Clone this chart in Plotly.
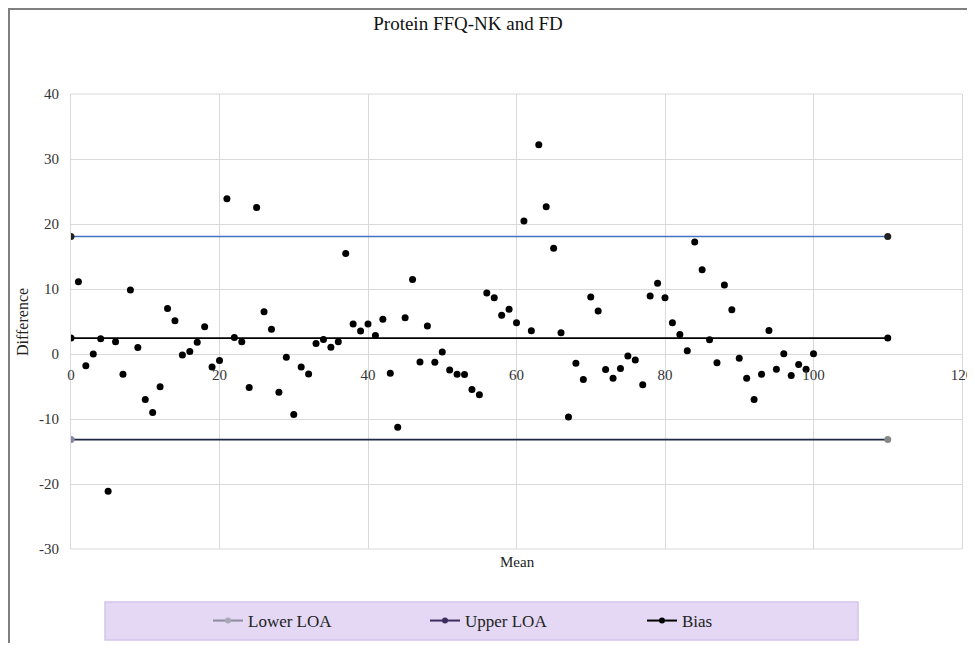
import plotly.graph_objects as go

# ---------------- data ----------------
mean_x = list(range(1, 101))
difference = [
    11.1, -1.8, 0.0, 2.35, -21.1, 1.9, -3.1, 9.85, 1.0, -7.0,
    -9.0, -5.05, 7.0, 5.1, -0.15, 0.4, 1.8, 4.2, -2.0, -1.0,
    23.9, 2.55, 1.9, -5.15, 22.55, 6.5, 3.8, -5.9, -0.5, -9.3,
    -2.0, -3.06, 1.63, 2.24, 1.02, 1.89, 15.46, 4.6, 3.52, 4.6,
    2.86, 5.36, -2.96, -11.28, 5.56, 11.48, -1.22, 4.29, -1.28, 0.31,
    -2.45, -3.1, -3.16, -5.46, -6.28, 9.39, 8.67, 5.97, 6.89, 4.8,
    20.46, 3.57, 32.2, 22.65, 16.28, 3.27, -9.69, -1.43, -3.93, 8.78,
    6.63, -2.4, -3.72, -2.24, -0.31, -0.92, -4.74, 8.93, 10.87, 8.67,
    4.8, 3.01, 0.51, 17.24, 12.96, 2.19, -1.33, 10.61, 6.79, -0.66,
    -3.72, -6.99, -3.11, 3.62, -2.35, 0.05, -3.32, -1.63, -2.35, 0.05,
]
loa_x = [0, 110]
upper_loa = [18.06, 18.06]
lower_loa = [-13.16, -13.16]
bias = [2.45, 2.45]

x_ticks = [0, 20, 40, 60, 80, 100, 120]
y_ticks = [-30, -20, -10, 0, 10, 20, 30, 40]
x_tick_labels = [str(v) for v in x_ticks]
y_tick_labels = [str(v) for v in y_ticks]

SERIF = "Liberation Serif"
GRID = "#d9d9d9"

fig = go.Figure()

# Upper LOA line (drawn blue with dark end markers)
fig.add_trace(go.Scatter(
    x=loa_x, y=upper_loa, mode="lines+markers",
    line=dict(color="#4472c4", width=1.5),
    marker=dict(color="#222222", size=7),
    showlegend=False, hoverinfo="skip"))
# Lower LOA line
fig.add_trace(go.Scatter(
    x=loa_x, y=lower_loa, mode="lines+markers",
    line=dict(color="#1c2740", width=1.8),
    marker=dict(color=["#8a84a8", "#888888"], size=7),
    showlegend=False, hoverinfo="skip"))
# Bias line
fig.add_trace(go.Scatter(
    x=loa_x, y=bias, mode="lines+markers",
    line=dict(color="#000000", width=1.8),
    marker=dict(color="#000000", size=7),
    showlegend=False, hoverinfo="skip"))
# Differences
fig.add_trace(go.Scatter(
    x=mean_x, y=difference, mode="markers",
    marker=dict(color="#000000", size=7),
    showlegend=False))

# Legend entries
fig.add_trace(go.Scatter(
    x=[None], y=[None], mode="lines+markers", name="Lower LOA",
    line=dict(color="#8c8c9c", width=2),
    marker=dict(color="#a8a8b8", size=6)))
fig.add_trace(go.Scatter(
    x=[None], y=[None], mode="lines+markers", name="Upper LOA",
    line=dict(color="#3d2c5c", width=2),
    marker=dict(color="#3d2c5c", size=6)))
fig.add_trace(go.Scatter(
    x=[None], y=[None], mode="lines+markers", name="Bias",
    line=dict(color="#000000", width=2),
    marker=dict(color="#000000", size=6)))

OFF = 8  # page body margin
W, H = 975 - OFF, 651 - 2 * OFF
PL, PR, PT, PB = 71 - OFF, 962 - OFF, 94 - OFF, 549 - OFF   # plot area in figure px
L, R, T, B = PL, W - PR, PT, H - PB
pw, ph = PR - PL, PB - PT


def px2paper_x(px):
    return (px - OFF - PL) / pw


def px2paper_y(py):
    return (PB - (py - OFF)) / ph


fig.update_layout(
    width=W, height=H,
    margin=dict(l=L, r=R, t=T, b=B, pad=0, autoexpand=False),
    paper_bgcolor="white", plot_bgcolor="white",
    font=dict(family=SERIF, size=15, color="#222222"),
    title=dict(text="Protein FFQ-NK and FD", x=(468 - OFF) / W, xanchor="center",
               y=1 - (23 - OFF) / H, yanchor="middle",
               font=dict(family=SERIF, size=19, color="#111111")),
    xaxis=dict(range=[0, 120], tickvals=x_ticks, ticktext=x_tick_labels,
               showgrid=True, gridcolor=GRID,
               gridwidth=1, zeroline=False, showline=False,
               anchor="free", position=px2paper_y(354),
               ticks="", ticklabelstandoff=10, ticklabeloverflow="allow",
               tickfont=dict(family=SERIF, size=15, color="#333333")),
    yaxis=dict(range=[-30, 40], tickvals=y_ticks, ticktext=y_tick_labels,
               showgrid=True, gridcolor=GRID,
               gridwidth=1, zeroline=True, zerolinecolor=GRID, zerolinewidth=1,
               showline=True, linecolor=GRID, mirror=True,
               ticks="", ticklabelstandoff=8,
               tickfont=dict(family=SERIF, size=15, color="#333333")),
    legend=dict(orientation="h", xref="container", yref="container",
                x=(208 - OFF) / W, xanchor="left",
                y=1 - (621 - OFF) / H, yanchor="middle",
                bgcolor="rgba(0,0,0,0)", entrywidth=172, entrywidthmode="pixels",
                font=dict(family=SERIF, size=17, color="#222222"),
                itemwidth=30),
    shapes=[
        # chart border
        dict(type="rect", xref="paper", yref="paper",
             x0=px2paper_x(9), x1=px2paper_x(972),
             y0=px2paper_y(700), y1=px2paper_y(9),
             line=dict(color="#7f7f7f", width=2), fillcolor="rgba(0,0,0,0)",
             layer="below"),
        # top/bottom plot border
        dict(type="line", xref="paper", yref="paper", x0=0, x1=1, y0=1, y1=1,
             line=dict(color=GRID, width=1), layer="below"),
        dict(type="line", xref="paper", yref="paper", x0=0, x1=1, y0=0, y1=0,
             line=dict(color=GRID, width=1), layer="below"),
        # legend background
        dict(type="rect", xref="paper", yref="paper",
             x0=px2paper_x(105), x1=px2paper_x(858),
             y0=px2paper_y(640), y1=px2paper_y(602),
             line=dict(color="#d3c3ec", width=1.5), fillcolor="#e4d8f5",
             layer="below"),
    ],
    annotations=[
        dict(text="Mean", xref="paper", yref="paper", x=px2paper_x(517),
             y=px2paper_y(562), showarrow=False, xanchor="center", yanchor="middle",
             font=dict(family=SERIF, size=15, color="#222222")),
        dict(text="Difference", xref="paper", yref="paper", x=px2paper_x(22),
             y=px2paper_y(322), showarrow=False, textangle=-90,
             xanchor="center", yanchor="middle",
             font=dict(family=SERIF, size=16, color="#222222")),
    ],
)

fig.write_html("out.html")
